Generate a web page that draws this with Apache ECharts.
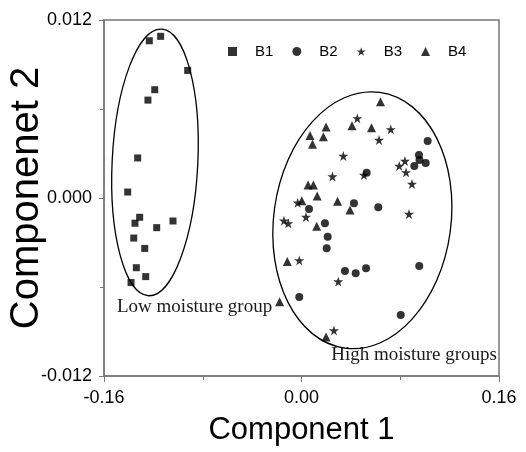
<!DOCTYPE html>
<html>
<head>
<meta charset="utf-8">
<style>
  html, body { margin: 0; padding: 0; background: #fff; }
  #chart { width: 526px; height: 452px; }
</style>
</head>
<body>
<div id="chart"></div>
<script src="https://cdn.jsdelivr.net/npm/echarts@6/dist/echarts.min.js"></script>
<script>
  const chart = echarts.init(document.getElementById('chart'));

  const seriesNames = ['B1', 'B2', 'B3', 'B4'];
  const xName = 'Component 1';
  const yName = 'Componenet 2';

  // [component 1, component 2]
  const b1 = [
    [-0.1233, 0.0106], [-0.1141, 0.0109], [-0.0922, 0.0086], [-0.1189, 0.0073],
    [-0.1244, 0.0066], [-0.1327, 0.0027], [-0.1408, 0.0004], [-0.1311, -0.0013],
    [-0.1349, -0.0017], [-0.1173, -0.0020], [-0.1041, -0.00155], [-0.1359, -0.0027],
    [-0.1270, -0.0034], [-0.1338, -0.0047], [-0.1262, -0.0053], [-0.1381, -0.0057]
  ];
  const b2 = [
    [0.1022, 0.00384], [0.0952, 0.00290], [0.0956, 0.00256], [0.1006, 0.00236],
    [0.0914, 0.00216], [0.0528, 0.00171], [0.0425, -0.00036], [0.0622, -0.00063],
    [0.0061, -0.00074], [0.0190, -0.00171], [0.0212, -0.00261], [0.0204, -0.00339],
    [0.0352, -0.00492], [0.0439, -0.00508], [0.0523, -0.00474], [0.0954, -0.00458],
    [-0.0018, -0.00667], [0.0804, -0.00789]
  ];
  const b3 = [
    [0.0452, 0.00537], [0.0723, 0.00463], [0.0628, 0.00391], [0.0339, 0.00283],
    [0.0838, 0.00249], [0.0792, 0.00216], [0.0847, 0.00173], [0.0895, 0.00094],
    [0.0506, 0.00155], [0.0251, 0.00145], [-0.0031, -0.00032], [0.0036, -0.00128],
    [-0.0142, -0.00153], [-0.0107, -0.00171], [0.0871, -0.00108], [-0.0018, -0.00421],
    [0.0298, -0.00563], [0.0263, -0.00893]
  ];
  const b4 = [
    [0.0640, 0.00649], [0.0409, 0.00487], [0.0567, 0.00474], [0.0199, 0.00479],
    [0.0177, 0.00413], [0.0069, 0.00421], [0.0089, 0.00363], [0.0053, 0.00088],
    [0.0096, 0.00088], [0.0127, 0.00013], [0.0002, -0.00018], [0.0292, -0.00022],
    [0.0393, -0.00081], [0.0123, -0.00191], [-0.0115, -0.00428], [-0.0177, -0.00699],
    [0.0199, -0.00937]
  ];

  // group outlines: [centre x, centre y, half width, half height, tilt deg]
  const groups = [
    [-0.1187, 0.0024, 0.0347, 0.0090, -2.8],
    [0.0493, -0.0015, 0.0718, 0.0087, -7.8]
  ];
  const groupLabels = ['Low moisture group', 'High moisture groups'];

  const star = 'path://M50 0 L61.8 36.2 L100 36.2 L69.1 58.8 L80.9 95.1 L50 72.7 L19.1 95.1 L30.9 58.8 L0 36.2 L38.2 36.2 Z';
  const symbols = ['rect', 'circle', star, 'triangle'];
  const sizes = [7, 8, 10, 9];
  const allData = [b1, b2, b3, b4];

  const sans = 'Liberation Sans, Arial, sans-serif';
  const serif = 'Liberation Serif, Times New Roman, serif';
  const axisColor = '#777';

  const scatterSeries = seriesNames.map((name, i) => ({
    name: name,
    type: 'scatter',
    symbol: symbols[i],
    symbolSize: sizes[i],
    itemStyle: { color: '#000' },
    data: allData[i],
    z: 3
  }));

  const option = {
    animation: false,
    backgroundColor: '#fff',
    grid: {
      left: 104, right: 27, top: 20, bottom: 76,
      show: true, borderColor: axisColor, borderWidth: 1.5,
      outerBoundsMode: 'none'
    },
    legend: {
      data: seriesNames,
      left: 223,
      top: 39,
      itemWidth: 9,
      itemHeight: 9,
      itemGap: 19,
      textStyle: { fontFamily: sans, fontSize: 15, color: '#000', padding: [0, 0, 0, 13] }
    },
    xAxis: {
      type: 'value',
      min: -0.16,
      max: 0.16,
      interval: 0.16,
      name: xName,
      nameLocation: 'middle',
      nameGap: 39,
      nameMoveOverlap: false,
      nameTextStyle: { fontFamily: sans, fontSize: 31, color: '#000' },
      axisLine: { onZero: false, lineStyle: { color: axisColor, width: 1.5 } },
      axisTick: { length: 6, lineStyle: { color: axisColor } },
      minorTick: { show: true, splitNumber: 2, length: 4, lineStyle: { color: axisColor } },
      splitLine: { show: false },
      axisLabel: {
        margin: 13,
        fontFamily: sans, fontSize: 18, color: '#000',
        formatter: v => (Math.abs(v) < 1e-9 ? 0 : v).toFixed(2)
      }
    },
    yAxis: {
      type: 'value',
      min: -0.012,
      max: 0.012,
      interval: 0.012,
      name: yName,
      nameLocation: 'middle',
      nameGap: 57,
      nameMoveOverlap: false,
      nameTextStyle: { fontFamily: sans, fontSize: 40, color: '#000' },
      axisLine: { onZero: false, lineStyle: { color: axisColor, width: 1.5 } },
      axisTick: { length: 5, lineStyle: { color: axisColor } },
      minorTick: { show: true, splitNumber: 2, length: 4, lineStyle: { color: axisColor } },
      splitLine: { show: false },
      axisLabel: {
        margin: 12,
        fontFamily: sans, fontSize: 18, color: '#000',
        formatter: v => (Math.abs(v) < 1e-9 ? 0 : v).toFixed(3)
      }
    },
    series: scatterSeries.concat([{
      type: 'custom',
      name: 'groups',
      silent: true,
      z: 2,
      data: groups,
      renderItem: (params, api) => {
        const c = api.coord([api.value(0), api.value(1)]);
        const s = api.size([api.value(2), api.value(3)]);
        return {
          type: 'ellipse',
          x: c[0],
          y: c[1],
          rotation: api.value(4) * Math.PI / 180,
          shape: { cx: 0, cy: 0, rx: s[0], ry: s[1] },
          style: { fill: 'none', stroke: '#000', lineWidth: 1.3 }
        };
      }
    }]),
    graphic: [
      {
        type: 'text', left: 117, top: 298,
        style: { text: groupLabels[0], font: '19px ' + serif, fill: '#1a1a1a' }
      },
      {
        type: 'text', right: 29, top: 346,
        style: { text: groupLabels[1], font: '19px ' + serif, fill: '#1a1a1a' }
      }
    ]
  };

  chart.setOption(option);
</script>
</body>
</html>
